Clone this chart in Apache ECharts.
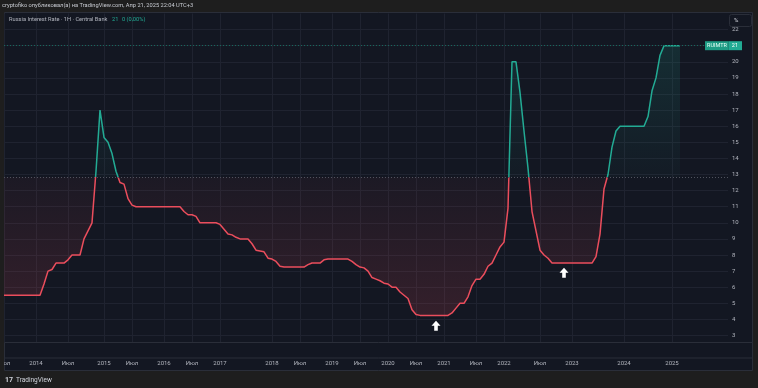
<!DOCTYPE html>
<html><head><meta charset="utf-8">
<script src="https://cdn.jsdelivr.net/npm/echarts@6/dist/echarts.min.js"></script>
<style>html,body{margin:0;padding:0;background:#1e1e1e}#c{width:758px;height:388px}</style>
</head><body><div id="c"></div>
<script>
// Russia key rate, one value per bar (slot)
const rate = [
  5.5,5.5,5.5,5.5,5.5,5.5,5.5,5.5,5.5,5.5,
  6.2,7,7.1,7.5,7.5,7.5,7.7,8,8,8,9.0,9.5,10.0,13.2,17,15.3,15,14.3,13.2,12.5,12.4,11.5,11.1,
  11,11,11,11,11,11,11,11,11,11,11,11,
  10.7,10.5,10.5,10.4,
  10,10,10,10,10,
  9.9,9.6,9.3,9.25,9.1,
  9,9,9,
  8.7,8.3,8.25,8.2,7.8,7.75,7.6,7.3,
  7.25,7.25,7.25,7.25,7.25,7.25,
  7.4,
  7.5,7.5,7.5,
  7.7,
  7.75,7.75,7.75,7.75,7.75,7.75,
  7.6,7.4,7.25,7.2,7.0,6.6,6.5,6.4,6.25,6.2,6.0,6.0,5.7,5.5,5.3,4.6,4.3,
  4.25,4.25,4.25,4.25,4.25,4.25,4.25,4.25,
  4.4,4.7,5.0,5.0,5.4,6.1,6.5,6.5,6.8,7.3,7.5,8.0,8.5,8.8,10.9,20,20,18.1,15.7,13.4,10.7,9.5,8.3,8,7.8,
  7.5,7.5,7.5,7.5,7.5,7.5,7.5,7.5,7.5,7.5,7.5,
  7.9,9.3,12.1,13.0,14.7,15.7,
  16,16,16,16,16,16,16,
  16.6,18.2,19,20.4,
  21,21,21,21,21
];
const totalSlots = 182;               // bars incl. empty right margin
const tickLabels = ['Июл','2014','Июл','2015','Июл','2016','Июл','2017','2018','Июл','2019','Июл','2020','Июл','2021','Июл','2022','Июл','2023','2024','2025'];
const tickSlots  = [0,8,16,25,32,40,47,54,67,74,82,89,96,103,110,118,125,134,142,155,167];
const baseline = 12.85;
const lastValue = 21;
const arrowMarks = [[108, 3.6], [140, 6.9]];

const categories = [];
for (let i = 0; i < totalSlots; i++) categories.push(String(i));
const labelAt = {};
tickSlots.forEach((s, k) => { labelAt[s] = tickLabels[k]; });
const seriesData = rate.concat(new Array(totalSlots - rate.length).fill(null));

const maxV = Math.max(...rate), minV = Math.min(...rate);
const f = (maxV - baseline) / (maxV - minV);

const TEAL = '#22ab94', RED = '#eb4d5c', GRID = '#1f2330', TXT = '#b2b5be';
const FONT = 'Roboto, "Noto Sans", sans-serif';

const chart = echarts.init(document.getElementById('c'), null, {renderer: 'canvas'});
chart.setOption({
  animation: false,
  backgroundColor: '#1e1e1e',
  textStyle: {fontFamily: FONT},
  grid: {left: 4, right: 30, top: 13.5, bottom: 36.4, containLabel: false, outerBoundsMode: 'none'},
  xAxis: {
    type: 'category', data: categories, boundaryGap: false,
    axisLine: {show: false}, axisTick: {show: false},
    axisLabel: {
      interval: (i) => labelAt[i] !== undefined,
      formatter: (v, i) => labelAt[i] || '',
      color: TXT, fontSize: 6, margin: 9, fontFamily: FONT
    },
    splitLine: {show: true, interval: (i) => labelAt[i] !== undefined, lineStyle: {color: GRID, width: 1}}
  },
  yAxis: {
    type: 'value', position: 'right', min: 2, max: 23, interval: 1,
    axisLine: {show: false}, axisTick: {show: false},
    axisLabel: {
      color: TXT, fontSize: 6, margin: 4, fontFamily: FONT,
      formatter: (v) => (v <= 2 || v >= 23 || v === lastValue) ? '' : String(v)
    },
    splitLine: {show: true, showMinLine: false, showMaxLine: false, lineStyle: {color: GRID, width: 1}}
  },
  series: [{
    type: 'line', data: seriesData, showSymbol: false, symbol: 'none',
    lineStyle: {
      width: 1.5,
      color: new echarts.graphic.LinearGradient(0, 0, 0, 1, [
        {offset: 0, color: TEAL}, {offset: f, color: TEAL},
        {offset: f, color: RED}, {offset: 1, color: RED}
      ])
    },
    areaStyle: {
      origin: baseline,
      color: new echarts.graphic.LinearGradient(0, 0, 0, 1, [
        {offset: 0, color: 'rgba(34,171,148,0.22)'},
        {offset: f, color: 'rgba(34,171,148,0.04)'},
        {offset: f, color: 'rgba(235,77,92,0.06)'},
        {offset: 1, color: 'rgba(235,77,92,0.22)'}
      ])
    },
    markLine: {
      silent: true, symbol: 'none', animation: false,
      data: [
        {yAxis: baseline, lineStyle: {color: '#50535e', type: [1, 2], width: 1}, label: {show: false}},
        {yAxis: lastValue, lineStyle: {color: '#17695d', type: [1, 2], width: 1},
         label: {show: true, position: 'end', distance: 0, offset: [-23, 0],
           formatter: '{a|RUIMTR}{b|' + lastValue + '}',
           rich: {
             a: {backgroundColor: '#1f9c85', color: '#e8fff9', fontSize: 5.5, padding: [1.5, 2, 1.5, 2], fontFamily: FONT},
             b: {backgroundColor: TEAL, color: '#ffffff', fontSize: 5.5, padding: [1.5, 4, 1.5, 3], fontFamily: FONT}
           }}}
      ]
    },
    markPoint: {
      silent: true, animation: false,
      symbol: 'path://M5,0 L10,5 L7,5 L7,10 L3,10 L3,5 L0,5 Z',
      symbolSize: [9, 10],
      itemStyle: {color: '#ffffff'},
      label: {show: false},
      data: arrowMarks.map(([i, v]) => ({coord: [i, v]}))
    }
  }],
  graphic: [
    {type: 'rect', z: -10, shape: {x: 4.5, y: 12.5, width: 748, height: 358}, style: {fill: '#131722', stroke: '#2a2e39', lineWidth: 1}},
    {type: 'rect', z: 1, shape: {x: 4.5, y: 342.5, width: 748, height: 15.5}, style: {fill: '#131722', stroke: '#2a2e39', lineWidth: 1}},
    {type: 'rect', z: 100, shape: {x: 0, y: 12, width: 4, height: 360}, style: {fill: '#1e1e1e'}},
    {type: 'text', z: 100, x: 2, y: 6, style: {text: 'cryptofiko опубликовал(а) на TradingView.com, Апр 21, 2025 22:04 UTC+3', fill: '#c8cbd2', font: '5.7px ' + FONT, verticalAlign: 'middle'}},
    {type: 'text', z: 100, x: 9, y: 19.5, style: {text: 'Russia Interest Rate · 1Н · Central Bank', fill: TXT, font: '5.7px ' + FONT, verticalAlign: 'middle'}},
    {type: 'text', z: 100, x: 112, y: 19.5, style: {text: String(lastValue), fill: TEAL, font: '5.7px ' + FONT, verticalAlign: 'middle'}},
    {type: 'text', z: 100, x: 122, y: 19.5, style: {text: '0 (0,00%)', fill: TEAL, font: '5.7px ' + FONT, verticalAlign: 'middle'}},
    {type: 'rect', z: 100, shape: {x: 729.5, y: 14.5, width: 22, height: 12, r: 2}, style: {fill: '#131722', stroke: '#2a2e39', lineWidth: 1}},
    {type: 'text', z: 101, x: 734, y: 20.5, style: {text: '%', fill: '#d1d4dc', font: '6px ' + FONT, verticalAlign: 'middle'}},
    {type: 'text', z: 100, x: 5, y: 380, style: {text: '17', fill: '#d1d4dc', font: 'bold 7px ' + FONT, verticalAlign: 'middle'}},
    {type: 'text', z: 100, x: 16, y: 380, style: {text: 'TradingView', fill: '#d1d4dc', font: '6.5px ' + FONT, verticalAlign: 'middle'}}
  ]
});
</script>
</body></html>
